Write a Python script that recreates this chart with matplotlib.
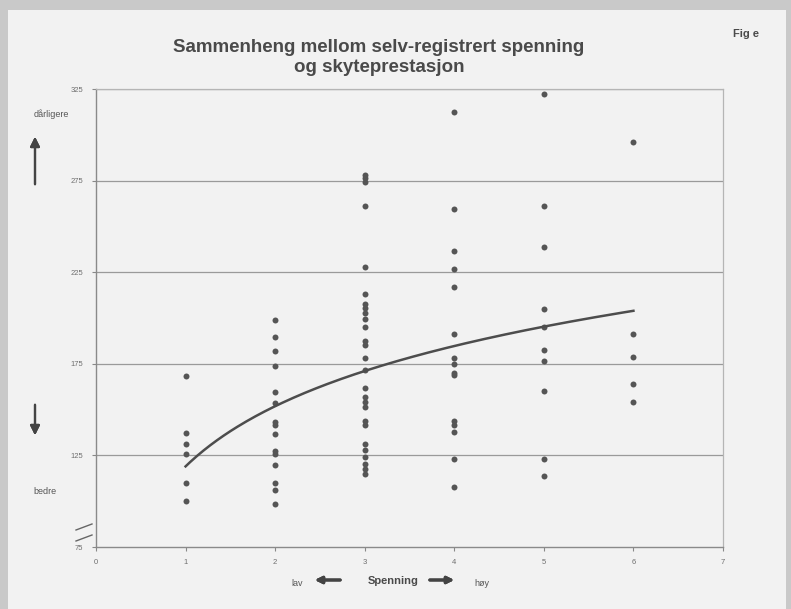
import matplotlib
matplotlib.use("Agg")
import matplotlib.pyplot as plt
import numpy as np
from matplotlib.patches import Rectangle

plt.rcParams['font.family'] = ['Liberation Sans', 'DejaVu Sans']

# self-reported tension (1-6) vs shooting score, one list per tension level
score_1 = [168.6, 137.2, 131.4, 125.5, 109.9, 100.1]
score_2 = [199.0, 189.4, 181.9, 173.9, 159.7, 153.7, 143.2, 141.4, 136.5,
           127.4, 125.5, 119.9, 109.9, 105.9, 98.3]
score_3 = [278.1, 276.5, 274.5, 261.4, 227.7, 213.2, 207.4, 205.4, 202.8,
           199.7, 195.0, 187.4, 185.0, 178.3, 171.4, 161.9, 156.8, 154.1,
           151.4, 143.7, 141.4, 131.4, 127.7, 124.1, 120.1, 117.7, 114.6]
score_4 = [312.3, 259.5, 236.5, 226.5, 217.0, 191.5, 177.9, 174.8, 170.1,
           168.9, 144.0, 141.6, 138.0, 122.9, 108.0]
score_5 = [322.0, 261.4, 238.6, 205.0, 195.0, 182.3, 176.8, 160.1, 123.2, 113.5]
score_6 = [296.3, 191.4, 178.6, 163.8, 154.1]
groups = [score_1, score_2, score_3, score_4, score_5, score_6]

# logarithmic trendline y = a + b*ln(x)
trend_a = 119.0
trend_b = 47.4

y_ticks = [75, 125, 175, 225, 275, 325]
x_ticks = [0, 1, 2, 3, 4, 5, 6, 7]

ink = '#4a4a4a'
W, H = 791, 609

fig = plt.figure(figsize=(W / 100, H / 100), dpi=100)
fig.patch.set_facecolor('#c9c9c9')
# light sheet on the grey background, kept behind the axes
fig.patches.append(Rectangle((8 / W, 0), (786 - 8) / W, 1 - 10 / H,
                             transform=fig.transFigure, facecolor='#f2f2f2',
                             edgecolor='none', zorder=-5))

ax = fig.add_axes([96 / W, 1 - 547 / H, (723 - 96) / W, (547 - 89) / H])
ax.set_zorder(2)
ax.set_facecolor('#f2f2f2')

for i, g in enumerate(groups):
    ax.plot([i + 1] * len(g), g, 'o', color='#555555', markersize=4.3,
            markeredgewidth=0, zorder=3)

xs = np.linspace(1, 6, 200)
ax.plot(xs, trend_a + trend_b * np.log(xs), color='#4d4d4d', lw=1.8, zorder=4)

ax.set_xlim(0, 7)
ax.set_ylim(75, 325)
ax.set_xticks(x_ticks)
ax.set_yticks(y_ticks)
ax.tick_params(axis='both', labelsize=5.5, colors='#888888', labelcolor='#6e6e6e',
               length=3, width=0.8, pad=6)
for y in y_ticks[1:]:
    ax.axhline(y, color='#9a9a9a', lw=0.9, zorder=1)
for side in ['left', 'bottom']:
    ax.spines[side].set_color('#8a8a8a')
    ax.spines[side].set_linewidth(1.0)
for side in ['right', 'top']:
    ax.spines[side].set_color('#b5b5b5')
    ax.spines[side].set_linewidth(0.9)

# axis break marks near the bottom of the y axis
for yy in [527, 538]:
    fig.add_artist(plt.Line2D([76 / W, 92 / W], [1 - (yy + 3) / H, 1 - (yy - 3) / H],
                              color='#666666', lw=1.0))

fig.text(379 / W, 1 - 47 / H, 'Sammenheng mellom selv-registrert spenning',
         ha='center', va='center', fontsize=13.5, fontweight='bold', color=ink)
fig.text(379 / W, 1 - 68 / H, 'og skyteprestasjon',
         ha='center', va='center', fontsize=13.5, fontweight='bold', color=ink)
fig.text(746 / W, 1 - 34 / H, 'Fig e', ha='center', va='center',
         fontsize=8, fontweight='bold', color=ink)

fig.text(51 / W, 1 - 114 / H, 'dårligere', ha='center', va='center',
         fontsize=6.5, color='#555555')
fig.text(45 / W, 1 - 491 / H, 'bedre', ha='center', va='center',
         fontsize=6.5, color='#555555')

arrow = dict(arrowstyle='-|>', color='#444444', lw=1.6, mutation_scale=14)
fig.add_artist(plt.annotate('', xy=(35 / W, 1 - 134 / H), xytext=(35 / W, 1 - 187 / H),
                            xycoords='figure fraction', arrowprops=arrow))
fig.add_artist(plt.annotate('', xy=(35 / W, 1 - 438 / H), xytext=(35 / W, 1 - 402 / H),
                            xycoords='figure fraction', arrowprops=arrow))

fig.text(297 / W, 1 - 583 / H, 'lav', ha='center', va='center',
         fontsize=6.5, color='#555555')
fig.text(393 / W, 1 - 581 / H, 'Spenning', ha='center', va='center',
         fontsize=8, fontweight='bold', color=ink)
fig.text(482 / W, 1 - 583 / H, 'høy', ha='center', va='center',
         fontsize=6.5, color='#555555')
arrow_h = dict(arrowstyle='-|>', color='#444444', lw=2.2, mutation_scale=10)
fig.add_artist(plt.annotate('', xy=(312 / W, 1 - 580 / H), xytext=(343 / W, 1 - 580 / H),
                            xycoords='figure fraction', arrowprops=arrow_h))
fig.add_artist(plt.annotate('', xy=(457 / W, 1 - 580 / H), xytext=(427 / W, 1 - 580 / H),
                            xycoords='figure fraction', arrowprops=arrow_h))

fig.savefig('out.png', dpi=100, facecolor=fig.get_facecolor())
